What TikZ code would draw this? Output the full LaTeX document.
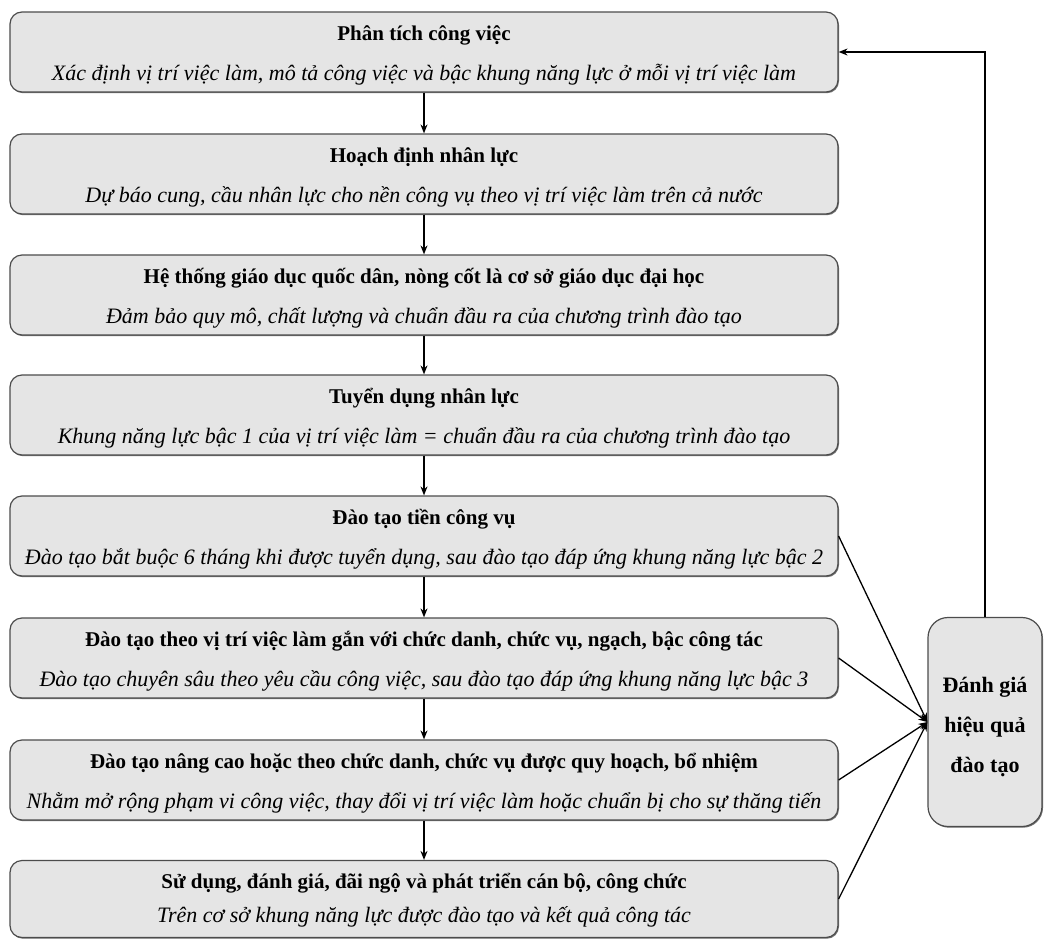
\documentclass[tikz,border=0pt]{standalone}
\usepackage{fontspec}
\setmainfont{Liberation Serif}
\usetikzlibrary{arrows.meta,shadows}
\begin{document}
\begin{tikzpicture}[x=1pt,y=-1pt,
  boxlook/.style={draw=black!70, line width=1.2pt, fill=black!10,
    drop shadow={shadow xshift=1pt,shadow yshift=-1.2pt,fill=black!55,opacity=1}},
  stepbox/.style={boxlook, rounded corners=12pt, minimum width=828pt, minimum height=80pt, inner sep=0pt},
  evalbox/.style={boxlook, rounded corners=20pt, minimum width=114pt, minimum height=209pt, inner sep=0pt},
  evaltext/.style={align=center, inner sep=0pt, font=\fontsize{22}{40}\selectfont\bfseries},
  ttl/.style={font=\fontsize{21}{26}\selectfont\bfseries, anchor=base, inner sep=0pt},
  sub/.style={font=\fontsize{22}{26}\selectfont\itshape, anchor=base, inner sep=0pt},
  arr/.style={-{Stealth[length=9pt,width=7pt]}, line width=1.3pt, black},
]
\useasboundingbox (0,0) rectangle (1045,940);

\node[stepbox] (b1) at (424,52) {};
\node[ttl] (t1) at (424,40) {Phân tích công việc};
\node[sub] (s1) at (424,80) {Xác định vị trí việc làm, mô tả công việc và bậc khung năng lực ở mỗi vị trí việc làm};

\node[stepbox] (b2) at (424,174) {};
\node[ttl] (t2) at (424,162) {Hoạch định nhân lực};
\node[sub] (s2) at (424,202) {Dự báo cung, cầu nhân lực cho nền công vụ theo vị trí việc làm trên cả nước};

\node[stepbox] (b3) at (424,295) {};
\node[ttl] (t3) at (424,283) {Hệ thống giáo dục quốc dân, nòng cốt là cơ sở giáo dục đại học};
\node[sub] (s3) at (424,323) {Đảm bảo quy mô, chất lượng và chuẩn đầu ra của chương trình đào tạo};

\node[stepbox] (b4) at (424,415) {};
\node[ttl] (t4) at (424,403) {Tuyển dụng nhân lực};
\node[sub] (s4) at (424,443) {Khung năng lực bậc 1 của vị trí việc làm = chuẩn đầu ra của chương trình đào tạo};

\node[stepbox] (b5) at (424,536) {};
\node[ttl] (t5) at (424,524) {Đào tạo tiền công vụ};
\node[sub] (s5) at (424,564) {Đào tạo bắt buộc 6 tháng khi được tuyển dụng, sau đào tạo đáp ứng khung năng lực bậc 2};

\node[stepbox] (b6) at (424,658) {};
\node[ttl] (t6) at (424,646) {Đào tạo theo vị trí việc làm gắn với chức danh, chức vụ, ngạch, bậc công tác};
\node[sub] (s6) at (424,686) {Đào tạo chuyên sâu theo yêu cầu công việc, sau đào tạo đáp ứng khung năng lực bậc 3};

\node[stepbox] (b7) at (424,780) {};
\node[ttl] (t7) at (424,768) {Đào tạo nâng cao hoặc theo chức danh, chức vụ được quy hoạch, bổ nhiệm};
\node[sub] (s7) at (424,808) {Nhằm mở rộng phạm vi công việc, thay đổi vị trí việc làm hoặc chuẩn bị cho sự thăng tiến};

\node[stepbox, minimum height=77pt] (b8) at (424,899) {};
\node[ttl] (t8) at (424,888) {Sử dụng, đánh giá, đãi ngộ và phát triển cán bộ, công chức};
\node[sub] (s8) at (424,922) {Trên cơ sở khung năng lực được đào tạo và kết quả công tác};

\node[evalbox] (ev) at (985,722) {};
\node[evaltext] (evt) at (985,727) {Đánh giá\\hiệu quả\\đào tạo};

\draw[arr] (b1) -- (b2);
\draw[arr] (b2) -- (b3);
\draw[arr] (b3) -- (b4);
\draw[arr] (b4) -- (b5);
\draw[arr] (b5) -- (b6);
\draw[arr] (b6) -- (b7);
\draw[arr] (b7) -- (b8);

\draw[arr] (b5.east) -- (ev.west);
\draw[arr] (b6.east) -- (ev.west);
\draw[arr] (b7.east) -- (ev.west);
\draw[arr] (b8.east) -- (ev.west);

\draw[arr] (ev.north) |- (b1.east);
\end{tikzpicture}
\end{document}
